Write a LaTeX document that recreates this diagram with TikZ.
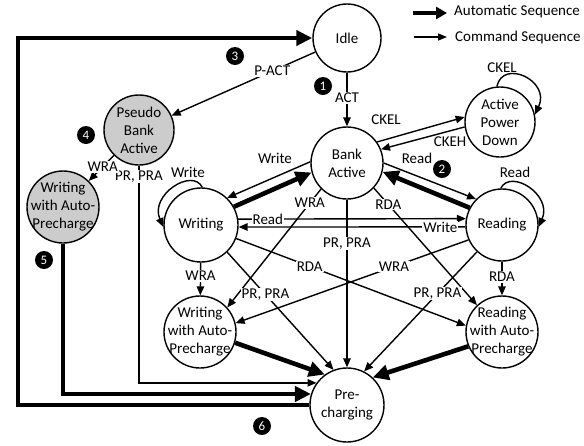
\documentclass[tikz,border=0pt]{standalone}
\usepackage{fontspec}
\setmainfont{Carlito}
\usetikzlibrary{arrows.meta}
\begin{document}
\begin{tikzpicture}[x=1pt,y=-1pt,
  st/.style={circle,draw,line width=1.4pt,inner sep=-16pt,minimum size=72pt,align=center,
    font=\fontsize{15}{18}\selectfont},
  greyst/.style={fill=black!20},
  cmd/.style={line width=1.4pt,-{Triangle[length=9pt,width=7.5pt]}},
  autoseq/.style={line width=4.6pt,-{Triangle[length=16pt,width=15pt]}},
  lab/.style={fill=white,inner sep=1pt,font=\fontsize{15}{16}\selectfont},
  plainlab/.style={inner sep=1pt,font=\fontsize{15}{16}\selectfont},
  num/.style={circle,fill=black,text=white,inner sep=0pt,minimum size=18pt,font=\fontsize{13}{13}\selectfont}
]
\useasboundingbox[fill=white] (0,0) rectangle (584,445);

% states
\node[st,minimum size=68pt] (idle) at (347,38) {Idle};
\node[st] (ba) at (347,163) {Bank\\Active};
\node[st,minimum size=70pt] (apd) at (500,122) {Active\\Power\\Down};
\node[st,greyst,minimum size=70pt] (pba) at (139,130) {Pseudo\\Bank\\Active};
\node[st,greyst] (wapg) at (63,207) {Writing\\with Auto-\\Precharge};
\node[st,minimum size=74pt] (wr) at (201,225) {Writing};
\node[st] (rd) at (502,225) {Reading};
\node[st] (wap) at (200,332) {Writing\\with Auto-\\Precharge};
\node[st] (rap) at (502,332) {Reading\\with Auto-\\Precharge};
\node[st,minimum size=74pt] (pre) at (347,405) {Pre-\\charging};

% numbers
\node[num] (n1) at (323,86) {1};
\node[num] (n2) at (442,169) {2};
\node[num] (n3) at (235,56) {3};
\node[num] (n4) at (86,135) {4};
\node[num] (n5) at (44,260) {5};
\node[num] (n6) at (262,426) {6};

% legend
\coordinate (la1) at (413,13);
\coordinate (la2) at (447,13);
\coordinate (lb1) at (414,37);
\coordinate (lb2) at (447,37);
\draw[line width=4.6pt,-{Triangle[length=11pt,width=12pt]}] (la1) -- (la2);
\draw[line width=1.4pt,-{Triangle[length=9pt,width=7pt]}] (lb1) -- (lb2);
\node[plainlab,anchor=west] (lt1) at (453,12) {Automatic Sequence};
\node[plainlab,anchor=west] (lt2) at (454,37) {Command Sequence};

% automatic frame paths
\coordinate (fl) at (18,0);
\draw[autoseq,line join=miter] (pre.west) -- (pre.west -| fl) -- (fl |- idle.west) -- (idle.west);
\draw[autoseq,line join=miter] (wapg.south) |- (pre.163);
\draw[cmd] (pba.south) |- node[lab,pos=0.025]{PR, PRA} (pre.144);

% command edges
\draw[cmd] (idle) -- node[lab,pos=0.3]{P-ACT} (pba);
\draw[cmd] (idle) -- node[lab,pos=0.47]{ACT} (ba);
\draw[cmd] (pba) -- node[lab,pos=0.45]{WRA} (wapg);

\draw[cmd] (ba.35) -- (apd.172);
\draw[cmd] (apd.188) -- (ba.22);
\node[plainlab] (lckel) at (386,120) {CKEL};
\node[plainlab] (lckeh) at (450,142) {CKEH};
\draw[cmd] (apd.95) .. controls +(6,-28) and +(16,-34) .. (apd.12);
\node[plainlab] (lckel2) at (502,68) {CKEL};

\draw[cmd] (wr.88) .. controls +(-10,-20) and +(-14,-32) .. (wr.183);
\node[plainlab] (lwl) at (188,172) {Write};
\draw[cmd] (rd.92) .. controls +(10,-20) and +(14,-32) .. (rd.-3);
\node[plainlab] (lrl) at (515,172) {Read};

\draw[cmd] (ba.178) -- (wr.46);
\node[plainlab] (lw1) at (275,158) {Write};
\draw[autoseq] (wr.29) -- (ba.195);
\draw[cmd] (ba.0) -- (rd.135);
\node[plainlab] (lr1) at (417,158) {Read};
\draw[autoseq] (rd.152) -- (ba.-14);

\draw[cmd] (wr.9.5) -- node[lab,pos=0.13]{Read} (rd.170.5);
\draw[cmd] (rd.183) -- node[lab,pos=0.11]{Write} (wr.-3);

\draw[cmd] (ba) -- node[lab,pos=0.26]{PR, PRA} (pre);
\draw[cmd] (ba.225) -- node[lab,pos=0.12]{WRA} (wap.42);
\draw[cmd] (ba.-43) -- node[lab,pos=0.14]{RDA} (rap.133);
\draw[cmd] (wr) -- node[lab,pos=0.4]{WRA} (wap);
\draw[cmd] (rd) -- node[lab,pos=0.45]{RDA} (rap);
\draw[cmd] (wr.-21) -- node[lab,pos=0.32]{RDA} (rap.170);
\draw[cmd] (rd.204) -- node[lab,pos=0.32]{WRA} (wap.14);
\draw[cmd] (wr.-46) -- node[lab,pos=0.36]{PR, PRA} (pre.111);
\draw[cmd] (rd.227) -- node[lab,pos=0.35]{PR, PRA} (pre.63);
\draw[autoseq] (wap.-17) -- (pre.126);
\draw[autoseq] (rap.203) -- (pre.47);
\end{tikzpicture}
\end{document}
